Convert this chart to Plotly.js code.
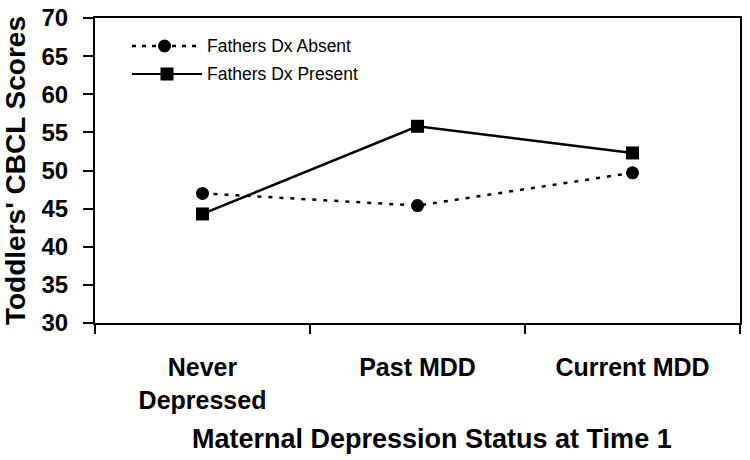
<!DOCTYPE html>
<html><head><meta charset="utf-8">
<script src="https://cdn.plot.ly/plotly-3.0.1.min.js"></script>
<style>body{margin:0;background:#fff}</style></head>
<body><div id="chart" style="width:750px;height:460px"></div>
<script>
const categories = ["Never<br>Depressed", "Past MDD", "Current MDD"];
const seriesNames = ["Fathers Dx Absent", "Fathers Dx Present"];
const absentScores = [47.0, 45.4, 49.7];
const presentScores = [44.3, 55.8, 52.3];
const yTickValues = [30, 35, 40, 45, 50, 55, 60, 65, 70];
const xTitle = "Maternal Depression Status at Time 1";
const yTitle = "Toddlers' CBCL Scores";

const W = 750, H = 460;
const M = {l: 95, r: 10, t: 18, b: 137};
const pw = W - M.l - M.r, ph = H - M.t - M.b;
const px = x => (x - M.l) / pw;
const py = y => (H - M.b - y) / ph;
const FONT = "Liberation Sans, Arial, sans-serif";

const traces = [
  {x: categories, y: absentScores, name: seriesNames[0], type: "scatter", mode: "lines+markers",
   line: {color: "#000", width: 2.5, dash: "4px,7px"},
   marker: {symbol: "circle", size: 13, color: "#000"}},
  {x: categories, y: presentScores, name: seriesNames[1], type: "scatter", mode: "lines+markers",
   line: {color: "#000", width: 2.5},
   marker: {symbol: "square", size: 13, color: "#000"}}
];

// legend drawn manually (long swatch lines like the reference)
const legRows = [46, 74];
const shapes = [
  {type: "line", xref: "paper", yref: "paper", x0: px(132), x1: px(202), y0: py(legRows[0]), y1: py(legRows[0]),
   line: {color: "#000", width: 2.5, dash: "4px,6px"}},
  {type: "circle", xref: "paper", yref: "paper", x0: px(158), x1: px(171), y0: py(legRows[0] + 6.5), y1: py(legRows[0] - 6.5),
   fillcolor: "#000", line: {width: 0}},
  {type: "line", xref: "paper", yref: "paper", x0: px(132), x1: px(202), y0: py(legRows[1]), y1: py(legRows[1]),
   line: {color: "#000", width: 2}},
  {type: "rect", xref: "paper", yref: "paper", x0: px(160.5), x1: px(173.5), y0: py(legRows[1] + 6.5), y1: py(legRows[1] - 6.5),
   fillcolor: "#000", line: {width: 0}}
];
const annotations = seriesNames.map((n, i) => ({
  text: n, xref: "paper", yref: "paper", x: px(205), y: py(legRows[i]), xanchor: "left", yanchor: "middle",
  showarrow: false, font: {family: FONT, size: 17.5, color: "#000"}
}));
annotations.push({
  text: xTitle, xref: "paper", yref: "paper", x: px(432), y: py(439), xanchor: "center", yanchor: "middle",
  showarrow: false, font: {family: FONT, size: 27, weight: "bold", color: "#000"}
});

const layout = {
  width: W, height: H, margin: M,
  paper_bgcolor: "#fff", plot_bgcolor: "#fff",
  showlegend: false,
  font: {family: FONT, color: "#000"},
  xaxis: {
    type: "category", range: [-0.5, 2.5], tickson: "boundaries",
    ticks: "outside", ticklen: 9, tickwidth: 2, tickcolor: "#000",
    showline: true, linewidth: 2, linecolor: "#000", mirror: true,
    showgrid: false, zeroline: false,
    tickfont: {family: FONT, size: 25, weight: "bold", color: "#000"},
    ticklabelstandoff: 21
  },
  yaxis: {
    range: [30, 70], tickvals: yTickValues, ticktext: yTickValues.map(String),
    ticks: "outside", ticklen: 10, tickwidth: 2, tickcolor: "#000",
    showline: true, linewidth: 2, linecolor: "#000", mirror: true,
    showgrid: false, zeroline: false,
    tickfont: {family: FONT, size: 24, weight: "bold", color: "#000"},
    ticklabelstandoff: 10,
    title: {text: yTitle, font: {family: FONT, size: 28, weight: "bold", color: "#000"}, standoff: 8}
  },
  shapes: shapes, annotations: annotations
};
Plotly.newPlot("chart", traces, layout, {displayModeBar: false, staticPlot: true});
</script></body></html>
